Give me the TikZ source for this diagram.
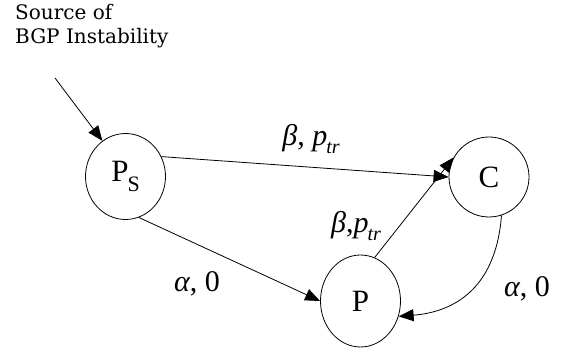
\documentclass[tikz,border=0pt]{standalone}
\usepackage{fontspec}
\setmainfont{Liberation Serif}
\newfontfamily\notefont{DejaVu Serif}
\usetikzlibrary{arrows.meta,shapes.geometric}

% subscript p_tr as in the figure
\newcommand{\ptrlab}{\textit{p}\kern-1pt\raisebox{-0.28em}{\fontsize{20}{20}\selectfont\textit{tr}}}

\begin{document}
\begin{tikzpicture}[x=1pt, y=-1pt,
  state/.style={draw, ellipse, line width=0.8pt, inner sep=0pt,
                font=\fontsize{31}{31}\selectfont},
  trans/.style={-{Triangle[length=15pt,width=12pt]}, line width=0.8pt},
  lab/.style={font=\fontsize{30}{30}\selectfont, inner sep=0pt},
]
\useasboundingbox (0,0) rectangle (567,352);

% States
\node[state, minimum width=80pt, minimum height=86pt] (ps) at (125.5,176.5)
  {P\kern-1pt\raisebox{-0.3em}{\fontsize{22}{22}\selectfont S}};
\node[state, minimum width=80pt, minimum height=80pt] (c) at (489,177) {C};
\node[state, minimum width=80pt, minimum height=92pt] (p) at (360.5,301) {P};

% Source of instability
\node[font=\notefont\fontsize{20}{24}\selectfont, align=left, anchor=north west,
      inner sep=0pt] (src) at (15,4) {Source of\\BGP Instability};
\coordinate (srcend) at (55,78);
\draw[trans] (srcend) -- (ps.123);

% Transitions
\draw[trans] (ps.29) -- (c.180);
\draw[trans] (ps.-72) -- (p.180);
\draw[trans] (p.72) -- (c.151);
\draw[trans] (c.-72) .. controls +(-6,78) and +(50,-4) .. (p.-22);

% Labels
\node[lab] (l1) at (311,139) {\textit{β}, \ptrlab};
\node[lab] (l2) at (197,284) {\textit{α}, 0};
\node[lab] (l3) at (356,226) {\textit{β},\ptrlab};
\node[lab] (l4) at (527,289) {\textit{α}, 0};

\end{tikzpicture}
\end{document}
